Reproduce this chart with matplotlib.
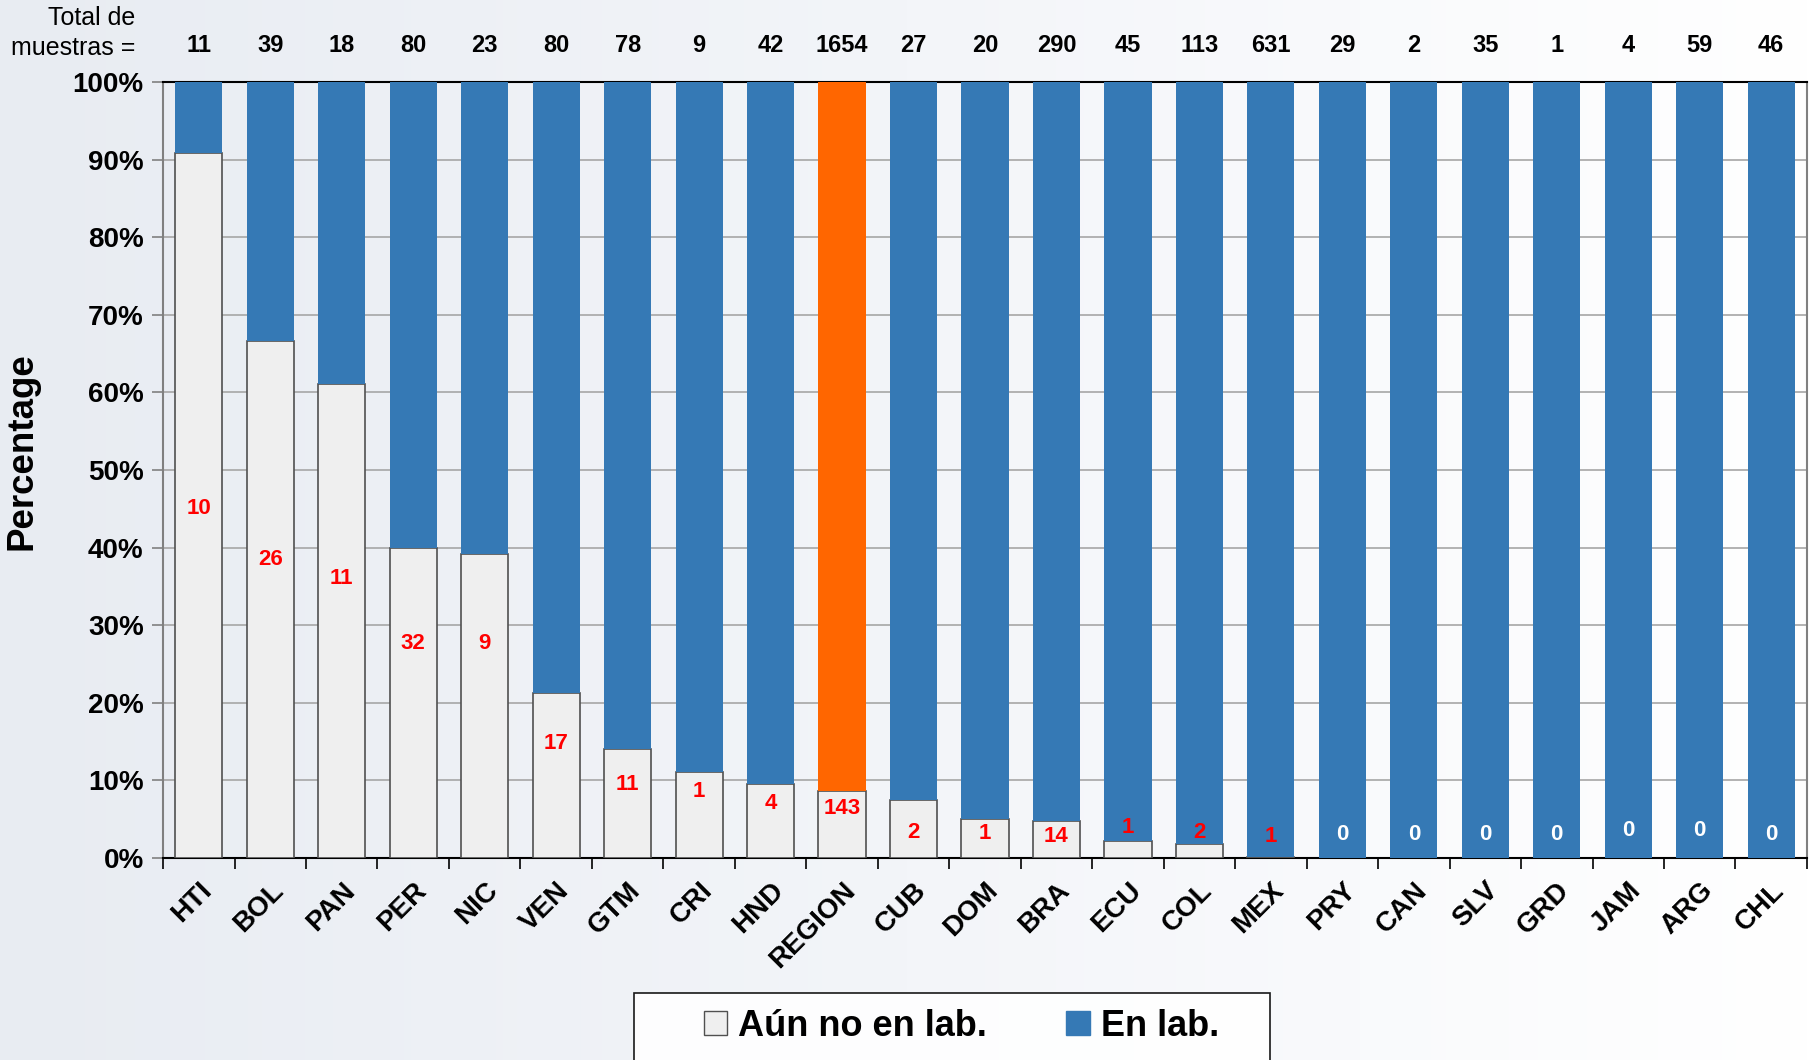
import numpy as np
import matplotlib.pyplot as plt
from matplotlib.patches import Patch, Rectangle
from matplotlib.colors import LinearSegmentedColormap
from matplotlib.ticker import FixedLocator

# Datos
paises = ["HTI", "BOL", "PAN", "PER", "NIC", "VEN", "GTM", "CRI", "HND", "REGION",
          "CUB", "DOM", "BRA", "ECU", "COL", "MEX", "PRY", "CAN", "SLV", "GRD",
          "JAM", "ARG", "CHL"]
totales = [11, 39, 18, 80, 23, 80, 78, 9, 42, 1654, 27, 20, 290, 45, 113, 631,
           29, 2, 35, 1, 4, 59, 46]
aun_no_en_lab = [10, 26, 11, 32, 9, 17, 11, 1, 4, 143, 2, 1, 14, 1, 2, 1,
                 0, 0, 0, 0, 0, 0, 0]

# Altura (en %) de las etiquetas rojas
etiqueta_y = [45, 38.5, 36, 27.6, 27.6, 14.8, 9.5, 8.6, 7, 6.4, 3.3, 3.1, 2.8,
              3.9, 3.3, 2.8, 3, 3, 3, 3, 3.5, 3.5, 3]

plt.rcParams["font.family"] = ["Liberation Sans", "DejaVu Sans"]

totales = np.array(totales)
aun_no_en_lab = np.array(aun_no_en_lab)
pct_aun_no = aun_no_en_lab / totales * 100
pct_en_lab = 100 - pct_aun_no

gris = "#efefef"
azul = "#3579b5"
naranja = "#ff6600"

fig = plt.figure(figsize=(18.14, 10.6), dpi=100)

# Fondo con degradado
bg = fig.add_axes([0, 0, 1, 1], zorder=-10)
cmap_bg = LinearSegmentedColormap.from_list("bg", ["#e8ecf2", "#f3f5f9", "#ffffff"])
grad = np.tile(np.linspace(0, 1, 256), (10, 1))
bg.imshow(grad, aspect="auto", cmap=cmap_bg, extent=[0, 1, 0, 1])
bg.axis("off")

ax = fig.add_axes([0.0899, 0.1906, 0.9062, 0.732])
ax.patch.set_alpha(0)

x = np.arange(len(paises))
colores_top = [naranja if p == "REGION" else azul for p in paises]

ax.bar(x, pct_aun_no, width=0.66, color=gris, edgecolor="#505050", linewidth=1.2, zorder=3)
ax.bar(x, pct_en_lab, bottom=pct_aun_no, width=0.66, color=colores_top,
       edgecolor="none", zorder=3)

ax.set_xlim(-0.5, len(paises) - 0.5)
ax.set_ylim(0, 100)
ax.set_yticks(np.arange(0, 101, 10))
ax.set_yticklabels([f"{v}%" for v in range(0, 101, 10)], fontsize=20, fontweight="bold")
ax.yaxis.grid(True, color="#a6a6a6", linewidth=1.2, zorder=0)
ax.set_axisbelow(True)

ax.set_xticks(x)
ax.set_xticklabels(paises, rotation=45, ha="right", rotation_mode="anchor",
                   fontsize=20, fontweight="bold")
ax.tick_params(axis="x", which="major", length=0, pad=14)
ax.xaxis.set_minor_locator(FixedLocator(np.arange(-0.5, len(paises), 1)))
ax.tick_params(axis="x", which="minor", length=8, width=1.2, color="black")
ax.tick_params(axis="y", length=8, width=1.2, color="#808080", pad=6)

for s in ["left", "right"]:
    ax.spines[s].set_color("#808080")
    ax.spines[s].set_linewidth(1.5)
ax.spines["top"].set_color("black")
ax.spines["top"].set_linewidth(1.5)
ax.spines["bottom"].set_color("black")
ax.spines["bottom"].set_linewidth(1.5)

ax.set_ylabel("Percentage", fontsize=26.5, fontweight="bold")
ax.yaxis.set_label_coords(-0.075, 0.524)

# Etiquetas de cantidad
for i in range(len(paises)):
    color = "white" if aun_no_en_lab[i] == 0 else "red"
    ax.text(x[i], etiqueta_y[i], str(aun_no_en_lab[i]), ha="center", va="center",
            fontsize=16, fontweight="bold", color=color, zorder=5)

# Totales arriba
trans = ax.get_xaxis_transform()
for i in range(len(paises)):
    ax.text(x[i], 1.047, str(totales[i]), transform=trans, ha="center", va="center",
            fontsize=17, fontweight="bold")
fig.text(0.0745, 0.969, "Total de\nmuestras =", ha="right", va="center",
         fontsize=18, linespacing=1.3)

# Leyenda
fig.patches.append(Rectangle((634 / 1814, -0.05), 636 / 1814, 67 / 1060 + 0.05,
                             transform=fig.transFigure, facecolor="white",
                             edgecolor="black", linewidth=1.2, alpha=0.9))
handles = [Patch(facecolor=gris, edgecolor="#505050", label="Aún no en lab."),
           Patch(facecolor=azul, edgecolor=azul, label="En lab.")]
fig.legend(handles=handles, loc="center", bbox_to_anchor=(0.53, 1 - 1026 / 1060),
           ncol=2, frameon=False, handlelength=0.65, handleheight=0.65,
           handletextpad=0.3, columnspacing=2.2,
           prop={"weight": "bold", "size": 26})

fig.savefig("out.png", dpi=100)
